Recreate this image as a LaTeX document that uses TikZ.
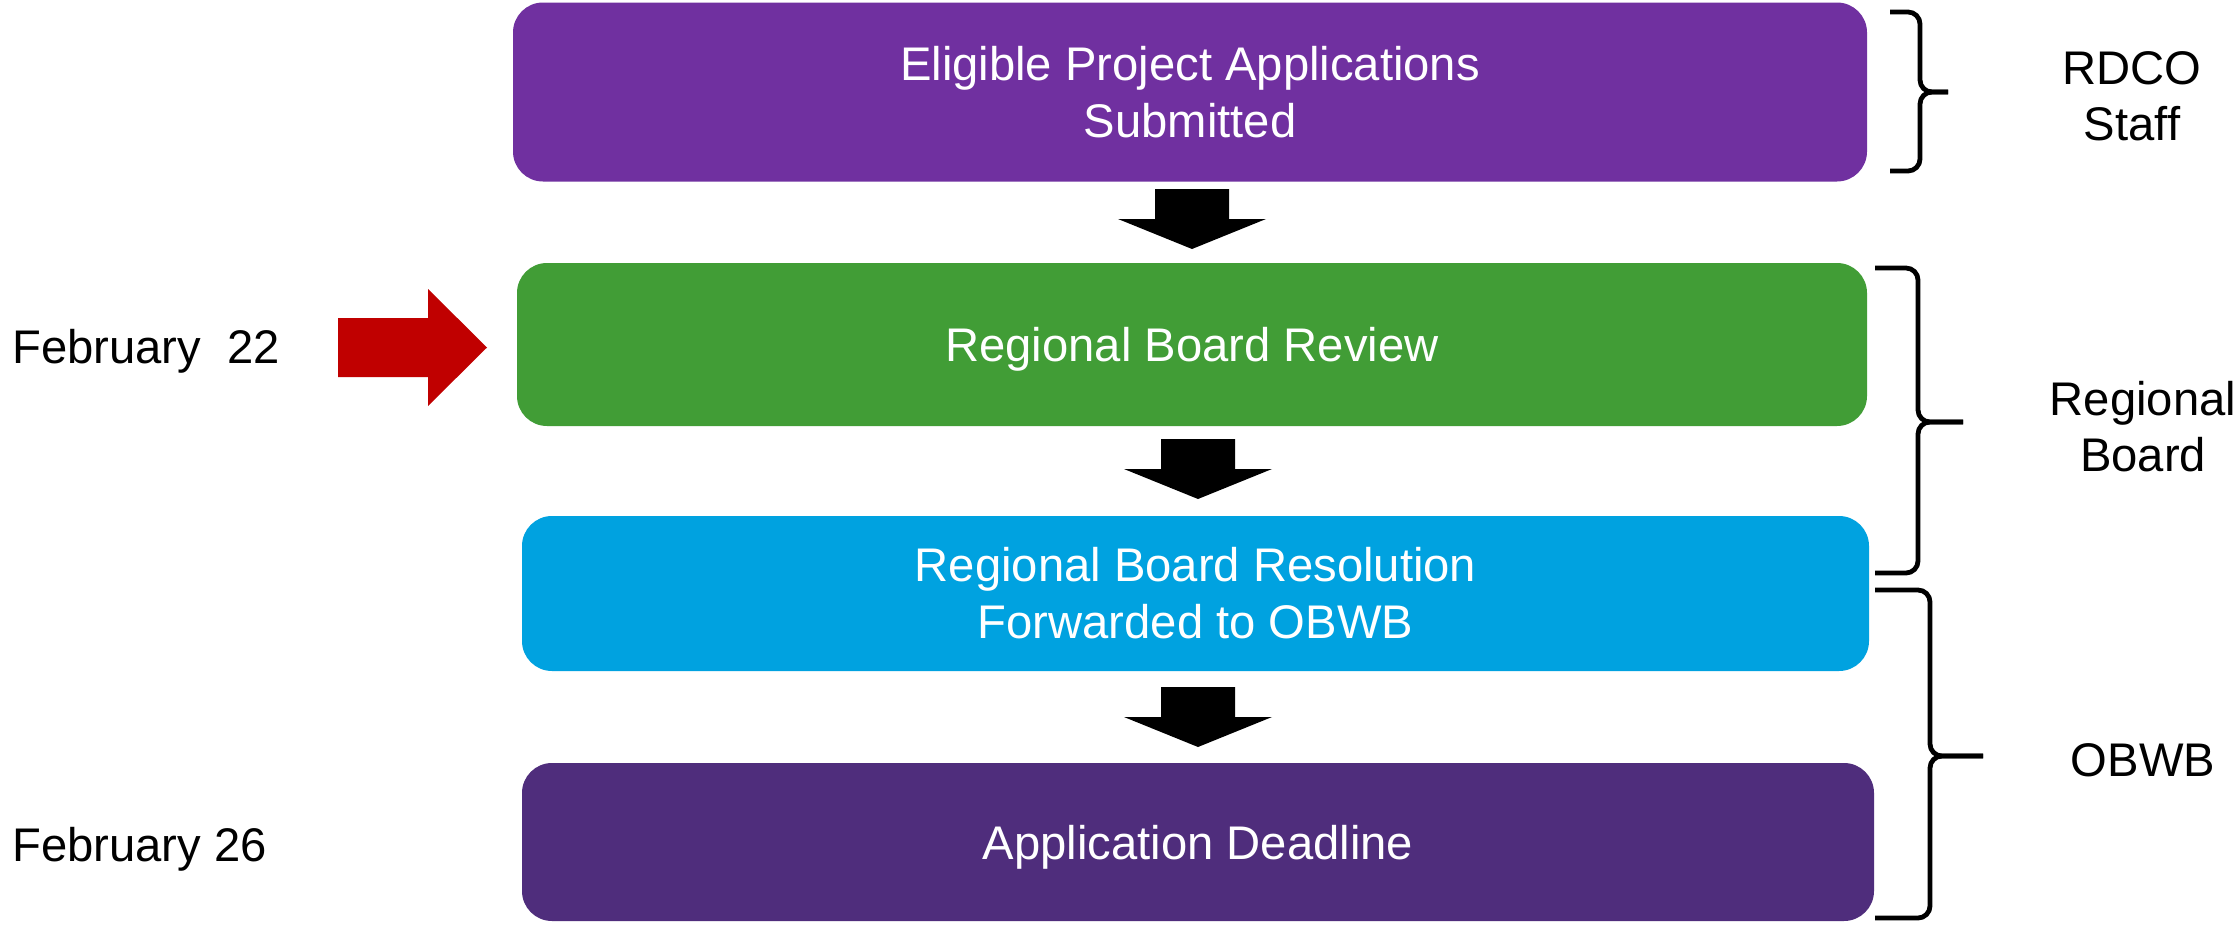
\documentclass[tikz,border=0pt]{standalone}
\usepackage{fontspec}
\setmainfont{Liberation Sans}
\definecolor{boxpurple}{HTML}{7030A0}
\definecolor{boxgreen}{HTML}{419D36}
\definecolor{boxcyan}{HTML}{00A2E0}
\definecolor{boxdark}{HTML}{4F2D7C}
\definecolor{redarrow}{HTML}{C00000}
\newcommand\blockdown[2]{% center x, shaft top y
  \fill[black] (#1-37,#2) -- (#1+37,#2) -- (#1+37,#2+30) -- (#1+74,#2+30)
     -- (#1,#2+60) -- (#1-74,#2+30) -- (#1-37,#2+30) -- cycle;}
\newcommand\sidebrace[6]{% x0, spine x, tip x, top y, mid y, bottom y
  \draw[bracestyle] (#1,#4) -- (#2,#4) -- (#2,#5) -- (#3,#5);
  \draw[bracestyle] (#1,#6) -- (#2,#6) -- (#2,#5) -- (#3,#5);}
\begin{document}
\begin{tikzpicture}[x=0.5pt,y=-0.5pt,
  stagebox/.style={rounded corners=15pt, inner sep=0pt, text=white, align=center,
    font=\fontsize{23.6pt}{28.5pt}\selectfont},
  sidelabel/.style={inner sep=0pt, align=center, text=black,
    font=\fontsize{23.6pt}{28pt}\selectfont},
  bracestyle/.style={line width=2.4pt, rounded corners=6pt, line cap=butt, line join=round}]
\useasboundingbox (0,0) rectangle (2239,926);
\fill[white] (0,0) rectangle (2239,926);

\node[stagebox, fill=boxpurple, minimum width=677pt, minimum height=89.5pt] (b1) at (1190,92)
  {Eligible Project Applications\\Submitted};
\node[stagebox, fill=boxgreen, minimum width=675pt, minimum height=81.5pt, text depth=0pt] (b2) at (1192,344.5)
  {Regional Board Review};
\node[stagebox, fill=boxcyan, minimum width=673.5pt, minimum height=77.5pt] (b3) at (1195.5,593.5)
  {Regional Board Resolution\\Forwarded to OBWB};
\node[stagebox, fill=boxdark, minimum width=676pt, minimum height=79pt, text depth=0pt] (b4) at (1198,842)
  {Application Deadline};

\blockdown{1192}{189}
\blockdown{1198}{439}
\blockdown{1198}{687}

\fill[redarrow] (338,318) -- (428,318) -- (428,289) -- (487,347.5) -- (428,406)
  -- (428,377) -- (338,377) -- cycle;

\node[sidelabel, anchor=base west] (d1) at (12,363) {February\ \ 22};
\node[sidelabel, anchor=base west] (d2) at (12,861) {February 26};

\sidebrace{1890}{1920}{1948}{12}{92}{171}
\sidebrace{1875}{1918}{1963}{268}{422}{573}
\sidebrace{1875}{1930}{1983}{590}{756}{918}

\node[sidelabel] (l1) at (2132,96) {RDCO\\Staff};
\node[sidelabel] (l2) at (2143,427) {Regional\\Board};
\node[sidelabel] (l3) at (2143,760) {OBWB};
\end{tikzpicture}
\end{document}
